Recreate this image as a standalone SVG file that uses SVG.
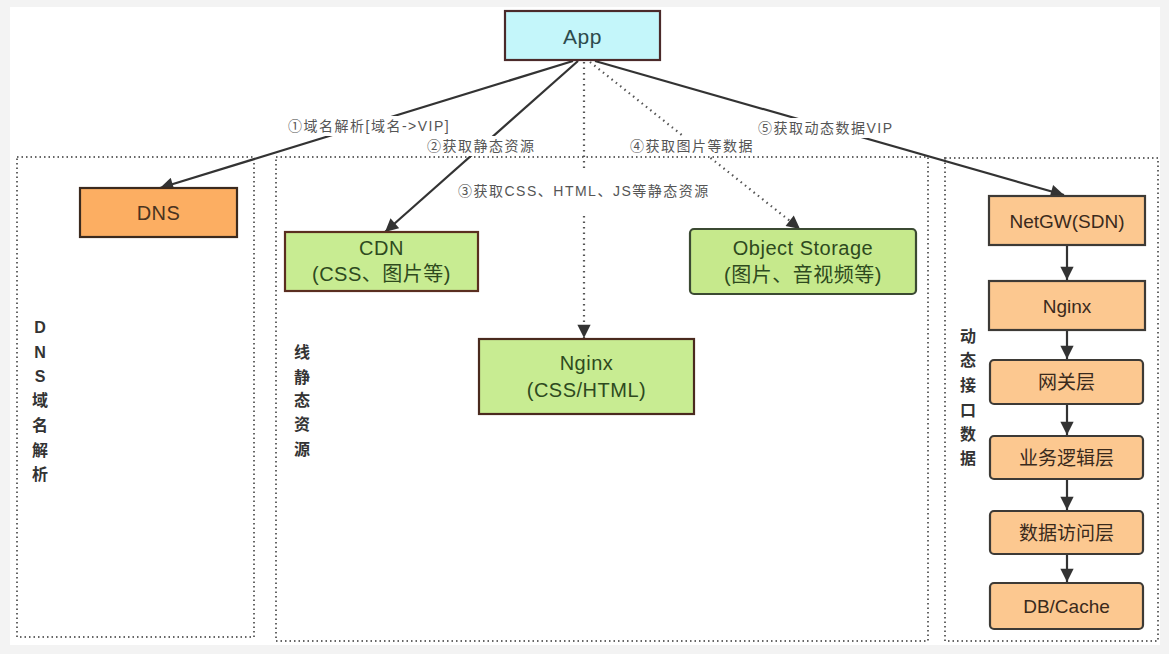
<svg xmlns="http://www.w3.org/2000/svg" width="1169" height="654" viewBox="0 0 1169 654">
<defs>
<style>
text{font-family:"Liberation Sans","Noto Sans CJK SC",sans-serif;}
.node{stroke-width:2.2;}
.t{font-size:20px;letter-spacing:0.5px;text-anchor:middle;dominant-baseline:central;}
.tr{font-size:19px;text-anchor:middle;dominant-baseline:central;fill:#3a2a1c;}
.grp{fill:none;stroke:#666;stroke-width:2;stroke-dasharray:1.5 3;}
.glabel{font-size:16px;font-weight:bold;fill:#333;text-anchor:middle;dominant-baseline:central;}
.lbl{font-size:14px;letter-spacing:1.5px;fill:#555;dominant-baseline:central;}
.edge{fill:none;stroke:#333;stroke-width:2.2;}
.dot{fill:none;stroke:#555;stroke-width:2.2;stroke-dasharray:1.5 4;}
</style>
<marker id="ah" viewBox="0 0 10 10" refX="10" refY="5" markerWidth="6.5" markerHeight="6" orient="auto" markerUnits="strokeWidth">
<path d="M0,0 L10,5 L0,10 z" fill="#333"/>
</marker>
</defs>
<rect x="0" y="0" width="1169" height="654" fill="#f3f3f3"/>
<rect x="10" y="7" width="1150" height="638" fill="#ffffff"/>

<g id="groups">
<g id="group-dns">
<rect class="grp" x="17" y="157" width="237" height="480"/>
<text class="glabel" x="40" y="327">D</text>
<text class="glabel" x="40" y="352">N</text>
<text class="glabel" x="40" y="376">S</text>
<text class="glabel" x="40" y="400">域</text>
<text class="glabel" x="40" y="425">名</text>
<text class="glabel" x="40" y="450">解</text>
<text class="glabel" x="40" y="474">析</text>
</g>
<g id="group-static">
<rect class="grp" x="276" y="157" width="652" height="484"/>
<text class="glabel" x="302" y="352">线</text>
<text class="glabel" x="302" y="377">静</text>
<text class="glabel" x="302" y="400">态</text>
<text class="glabel" x="302" y="424">资</text>
<text class="glabel" x="302" y="449">源</text>
</g>
<g id="group-dynamic">
<rect class="grp" x="945" y="158" width="213" height="483"/>
<text class="glabel" x="968" y="336">动</text>
<text class="glabel" x="968" y="360">态</text>
<text class="glabel" x="968" y="385">接</text>
<text class="glabel" x="968" y="410">口</text>
<text class="glabel" x="968" y="434">数</text>
<text class="glabel" x="968" y="458">据</text>
</g>
</g>

<g id="connectors">
<path class="edge" d="M573,61 L160,188" marker-end="url(#ah)"/>
<path class="edge" d="M578,61 L385,232" marker-end="url(#ah)"/>
<path class="dot" d="M584,62 L584,338" marker-end="url(#ah)"/>
<path class="dot" d="M590,62 L800,229" marker-end="url(#ah)"/>
<path class="edge" d="M595,61 L1064,195" marker-end="url(#ah)"/>
<path class="edge" d="M1067,245 L1067,280" marker-end="url(#ah)"/>
<path class="edge" d="M1067,330 L1067,359" marker-end="url(#ah)"/>
<path class="edge" d="M1067,404 L1067,435" marker-end="url(#ah)"/>
<path class="edge" d="M1067,479 L1067,510" marker-end="url(#ah)"/>
<path class="edge" d="M1067,554 L1067,582" marker-end="url(#ah)"/>
<g id="edge-labels">
<rect x="285" y="116" width="172" height="20" fill="#fff"/>
<text class="lbl" x="288" y="126">①域名解析[域名-&gt;VIP]</text>
<rect x="424" y="136" width="116" height="20" fill="#fff"/>
<text class="lbl" x="427" y="146">②获取静态资源</text>
<rect x="455" y="172" width="258" height="42" fill="#fff"/>
<text class="lbl" x="458" y="191">③获取CSS、HTML、JS等静态资源</text>
<rect x="627" y="136" width="132" height="20" fill="#fff"/>
<text class="lbl" x="630" y="146">④获取图片等数据</text>
<rect x="755" y="118" width="140" height="20" fill="#fff"/>
<text class="lbl" x="758" y="128">⑤获取动态数据VIP</text>
</g>
</g>

<g id="node-app">
<rect class="node" x="505" y="11" width="155" height="49" fill="#c4f6fa" stroke="#4b2a2a"/>
<text class="t" x="582.5" y="36" style="font-size:21px" fill="#2d4a4c">App</text>
</g>
<g id="node-dns">
<rect class="node" x="80" y="188" width="157" height="49" fill="#fcae62" stroke="#3b2a1e"/>
<text class="t" x="158.5" y="213" fill="#4a3320">DNS</text>
</g>
<g id="node-cdn">
<rect class="node" x="285" y="232" width="193" height="59" fill="#c8ec92" stroke="#5a2e20"/>
<text class="t" x="381.5" y="248" fill="#2e4a1e">CDN</text>
<text class="t" x="381.5" y="274" fill="#2e4a1e">(CSS、图片等)</text>
</g>
<g id="node-object-storage">
<rect class="node" x="690" y="229" width="226" height="65" rx="4" fill="#c6e98c" stroke="#3b4a32"/>
<text class="t" x="803" y="248" fill="#2e4a1e">Object Storage</text>
<text class="t" x="803" y="275" fill="#2e4a1e">(图片、音视频等)</text>
</g>
<g id="node-nginx-static">
<rect class="node" x="479" y="339" width="215" height="75" fill="#c8ec92" stroke="#4a2a1e"/>
<text class="t" x="586.5" y="363" fill="#2e4a1e">Nginx</text>
<text class="t" x="586.5" y="390" fill="#2e4a1e">(CSS/HTML)</text>
</g>
<g id="node-netgw">
<rect class="node" x="989" y="196" width="156" height="49" fill="#fcc890" stroke="#3d3a36"/>
<text class="tr" x="1067" y="221">NetGW(SDN)</text>
</g>
<g id="node-nginx-dyn">
<rect class="node" x="989" y="281" width="156" height="49" fill="#fcc890" stroke="#3d3a36"/>
<text class="tr" x="1067" y="306">Nginx</text>
</g>
<g id="node-gateway">
<rect class="node" x="990" y="360" width="153" height="44" rx="4" fill="#fcc890" stroke="#3d3a36"/>
<text class="tr" x="1066.5" y="382">网关层</text>
</g>
<g id="node-biz">
<rect class="node" x="990" y="436" width="153" height="43" rx="4" fill="#fcc890" stroke="#3d3a36"/>
<text class="tr" x="1066.5" y="458">业务逻辑层</text>
</g>
<g id="node-dao">
<rect class="node" x="990" y="511" width="153" height="43" rx="4" fill="#fcc890" stroke="#3d3a36"/>
<text class="tr" x="1066.5" y="533">数据访问层</text>
</g>
<g id="node-db">
<rect class="node" x="990" y="583" width="153" height="46" rx="4" fill="#fcc890" stroke="#3d3a36"/>
<text class="tr" x="1066.5" y="606">DB/Cache</text>
</g>
</svg>
